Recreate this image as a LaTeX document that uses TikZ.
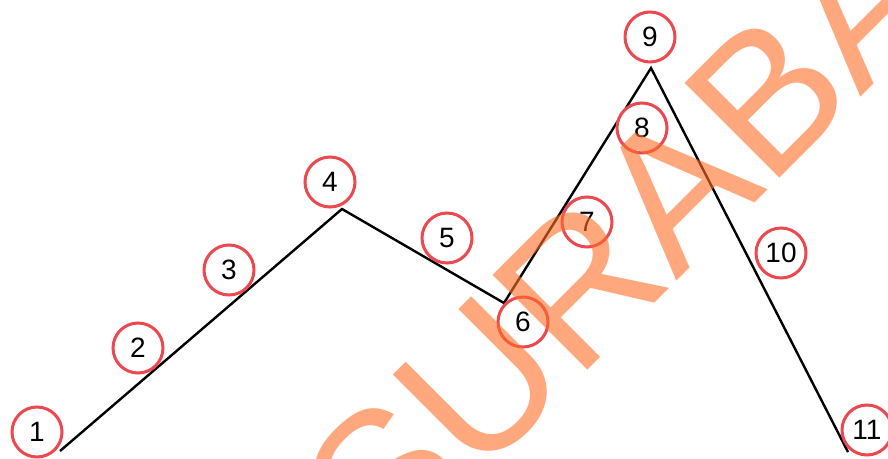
\documentclass[tikz,border=0pt]{standalone}
\usepackage{fontspec}
\setmainfont{Liberation Sans}
\definecolor{ring}{RGB}{235,72,80}
\definecolor{wmark}{RGB}{255,110,40}
\begin{document}
\begin{tikzpicture}[x=1pt,y=-1pt,
  num/.style={circle, draw=ring, line width=3pt, fill=white, minimum size=50pt, inner sep=0pt, font=\fontsize{28}{28}\selectfont},
  zig/.style={draw=black, line width=2.4pt, line join=miter},
  wmstyle/.style={anchor=base west, rotate=45, inner sep=0pt, text=wmark, opacity=0.6, font=\fontsize{195}{195}\selectfont}]
\useasboundingbox (0,0) rectangle (888,458);
\clip (0,0) rectangle (888,458);
\coordinate (p1) at (60,451);
\coordinate (p4) at (342,209);
\coordinate (p6) at (504,303);
\coordinate (p9) at (651,68);
\coordinate (p11) at (848,452);
\draw[zig] (p1) -- (p4) -- (p6) -- (p9) -- (p11);
\node[num] (n1) at (37,432) {1};
\node[num] (n2) at (138,348) {2};
\node[num] (n3) at (229,270) {3};
\node[num] (n4) at (330,182) {4};
\node[num] (n5) at (447,238) {5};
\node[num] (n6) at (523,322) {6};
\node[num] (n7) at (587,222) {7};
\node[num] (n8) at (642,128) {8};
\node[num] (n9) at (650,37) {9};
\node[num] (n10) at (781,253) {10};
\node[num] (n11) at (867,430) {11};
\node[wmstyle] (wm) at (385,573) {SURABAYA};
\end{tikzpicture}
\end{document}
